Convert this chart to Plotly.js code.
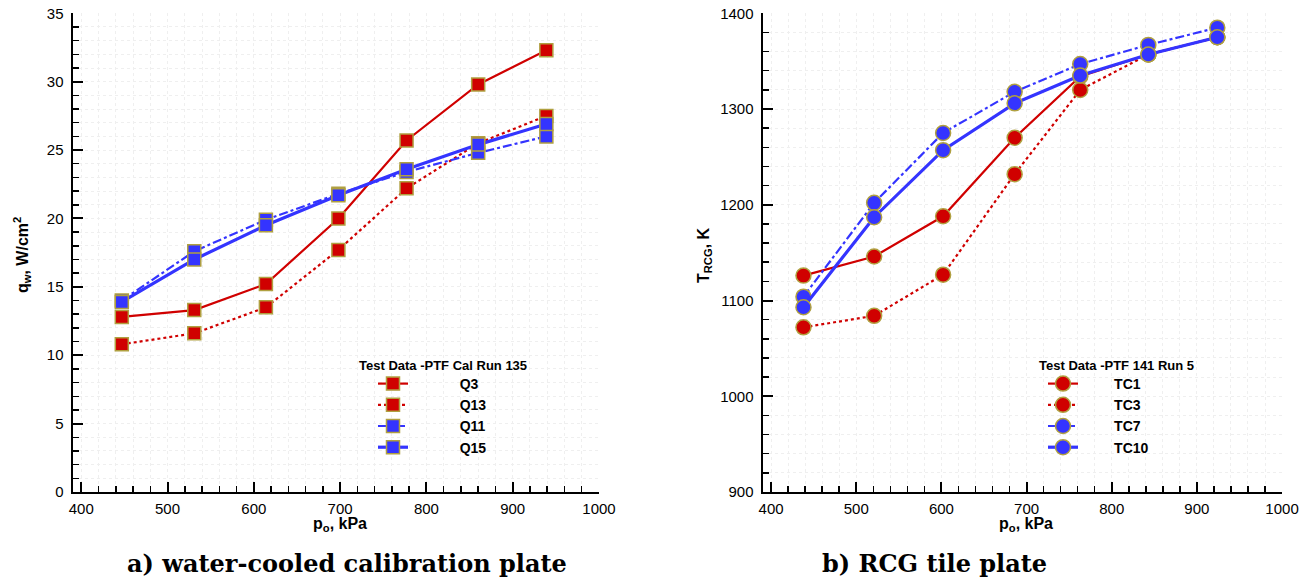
<!DOCTYPE html>
<html>
<head>
<meta charset="utf-8">
<script src="https://cdn.plot.ly/plotly-3.0.1.min.js"></script>
<style>
  html, body { margin: 0; padding: 0; background: #ffffff; }
  #chart { width: 1309px; height: 581px; }
</style>
</head>
<body>
<div id="chart"></div>
<script>
// Calibration plate: stagnation pressure (kPa) and heat flux (W/cm^2)
const pressureCal = [447, 531, 614, 698, 777, 860, 939];
const q3  = [12.8, 13.3, 15.2, 20.0, 25.7, 29.8, 32.3];
const q13 = [10.8, 11.6, 13.5, 17.7, 22.2, 25.5, 27.5];
const q11 = [14.0, 17.6, 19.9, 21.8, 23.4, 24.8, 26.0];
const q15 = [13.9, 17.0, 19.5, 21.7, 23.6, 25.4, 26.9];

// RCG tile plate: stagnation pressure (kPa) and surface temperature (K)
const pressureTile = [438, 521, 602, 686, 763, 843, 924];
const tc1  = [1126, 1146, 1188, 1270, 1334, 1357, 1375];
const tc3  = [1072, 1084, 1127, 1232, 1320, 1357, 1375];
const tc7  = [1104, 1202, 1275, 1318, 1347, 1367, 1385];
const tc10 = [1093, 1187, 1257, 1306, 1335, 1357, 1375];

const seriesCalNames  = ['Q3', 'Q13', 'Q11', 'Q15'];
const seriesTileNames = ['TC1', 'TC3', 'TC7', 'TC10'];

const RED = '#d00000';
const BLUE = '#3434ff';
const EDGE = '#b0a040';
const nb = n => '\u00a0'.repeat(n);

const styles = [
  {color: RED,  width: 2.2, dash: 'solid'},
  {color: RED,  width: 2.2, dash: 'dot'},
  {color: BLUE, width: 2.2, dash: 'dashdot'},
  {color: BLUE, width: 3.2, dash: 'solid'}
];

function makeTrace(x, y, name, st, symbol, size, xa, ya, legend) {
  return {
    type: 'scatter', mode: 'lines+markers',
    x: x, y: y, name: name,
    xaxis: xa, yaxis: ya, legend: legend,
    line: {color: st.color, width: st.width, dash: st.dash},
    marker: {symbol: symbol, size: size, color: st.color,
             line: {color: EDGE, width: 1.5}}
  };
}

const calY = [q3, q13, q11, q15];
const tileY = [tc1, tc3, tc7, tc10];
const traces = [];
calY.forEach((ys, i) => traces.push(
  makeTrace(pressureCal, ys, '<b>' + nb(12) + seriesCalNames[i] + '</b>',
            styles[i], 'square', 13, 'x', 'y', 'legend')));
tileY.forEach((ys, i) => traces.push(
  makeTrace(pressureTile, ys, '<b>' + nb(8) + seriesTileNames[i] + '</b>',
            styles[i], 'circle', 15, 'x2', 'y2', 'legend2')));

const sans = 'Liberation Sans, Arial, sans-serif';
const tickFont = {family: sans, size: 15, color: '#000'};
const gridMinor = {ticks: 'inside', ticklen: 6, tickwidth: 1.5, tickcolor: '#000',
                   showgrid: true, gridcolor: '#efefef', griddash: 'dot', gridwidth: 1};

function xAxis(domain, anchor) {
  return {
    domain: domain, anchor: anchor, range: [390.5, 1000],
    tick0: 400, dtick: 100, ticks: 'inside', ticklen: 10, tickwidth: 2, tickcolor: '#000',
    showline: true, linewidth: 2.5, linecolor: '#000', zeroline: false,
    showgrid: true, gridcolor: '#efefef', griddash: 'dot',
    minor: Object.assign({dtick: 20}, gridMinor),
    tickfont: tickFont, ticklabelstandoff: 2, fixedrange: true
  };
}
function yAxis(range, dtick, minorDtick, anchor) {
  return {
    domain: [0.1532, 0.9771], anchor: anchor, range: range,
    dtick: dtick, ticks: 'inside', ticklen: 10, tickwidth: 2, tickcolor: '#000',
    showline: true, linewidth: 2.5, linecolor: '#000', zeroline: false,
    showgrid: true, gridcolor: '#efefef', griddash: 'dot',
    minor: Object.assign({dtick: minorDtick}, gridMinor),
    tickfont: tickFont, ticklabelstandoff: 4, fixedrange: true
  };
}

const titleFont = {family: sans, size: 16, color: '#000'};
const captionFont = {family: 'DejaVu Serif, serif', size: 24, color: '#000', weight: 'bold'};
const legendTitleFont = {family: sans, size: 13, color: '#000'};
const legendFont = {family: sans, size: 14, color: '#000'};

function text(x, y, t, font, extra) {
  return Object.assign({xref: 'paper', yref: 'paper', x: x, y: y, text: t,
    showarrow: false, font: font, xanchor: 'center', yanchor: 'middle'}, extra || {});
}

const legendBase = {
  xanchor: 'left', yanchor: 'top', bgcolor: 'rgba(0,0,0,0)', borderwidth: 0,
  font: legendFont, tracegroupgap: 0, itemclick: false, itemdoubleclick: false
};

const layout = {
  width: 1309, height: 581,
  margin: {l: 0, r: 0, t: 0, b: 0},
  paper_bgcolor: '#ffffff', plot_bgcolor: '#ffffff',
  showlegend: true,
  xaxis: xAxis([0.0558, 0.4576], 'y'),
  yaxis: yAxis([0, 35], 5, 1, 'x'),
  xaxis2: xAxis([0.5829, 0.9794], 'y2'),
  yaxis2: yAxis([900, 1400], 100, 20, 'x2'),
  legend: Object.assign({x: 373 / 1309, y: (581 - 368) / 581}, legendBase),
  legend2: Object.assign({x: 1043 / 1309, y: (581 - 368) / 581}, legendBase),
  annotations: [
    text(357 / 1309, (581 - 365) / 581, '<b>Test Data -PTF Cal Run 135</b>', legendTitleFont, {xanchor: 'left'}),
    text(1037 / 1309, (581 - 365) / 581, '<b>Test Data -PTF 141 Run 5</b>', legendTitleFont, {xanchor: 'left'}),
    text(340 / 1309, (581 - 524) / 581, '<b>p<sub>o</sub>, kPa</b>', titleFont),
    text(1026 / 1309, (581 - 524) / 581, '<b>p<sub>o</sub>, kPa</b>', titleFont),
    text(22 / 1309, (581 - 255) / 581, '<b>q<sub>w</sub>, W/cm<sup>2</sup></b>', titleFont, {textangle: -90}),
    text(704 / 1309, (581 - 255) / 581, '<b>T<sub>RCG</sub>, K</b>', titleFont, {textangle: -90}),
    text(347 / 1309, (581 - 563) / 581, 'a) water-cooled calibration plate', captionFont),
    text(934 / 1309, (581 - 563) / 581, 'b) RCG tile plate', captionFont)
  ]
};

Plotly.newPlot('chart', traces, layout, {displayModeBar: false, staticPlot: true});
</script>
</body>
</html>
